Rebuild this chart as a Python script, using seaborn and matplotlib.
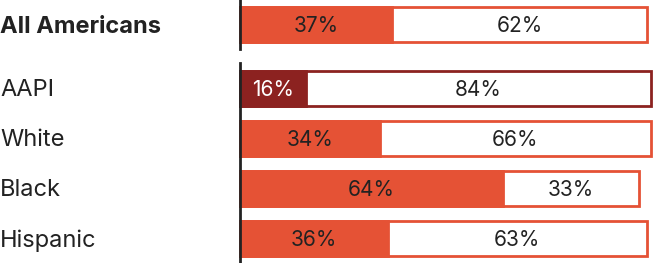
import matplotlib
matplotlib.use("Agg")
import matplotlib.pyplot as plt
import seaborn as sns
import pandas as pd

sns.set_theme(style="white")
plt.rcParams['font.family'] = ['Inter', 'DejaVu Sans']

top_cat = ["All Americans"]
top_first = [37]
top_second = [62]

groups = ["AAPI", "White", "Black", "Hispanic"]
first = [16, 34, 64, 36]
second = [84, 66, 33, 63]

ORANGE = "#E55235"
DARKRED = "#8C2220"
TXT = "#222222"
colors_top = [ORANGE]
colors_bot = [DARKRED, ORANGE, ORANGE, ORANGE]
text_colors_top = [TXT]
text_colors_bot = ["white", TXT, TXT, TXT]

W, H = 653, 263
fig = plt.figure(figsize=(W / 100, H / 100), dpi=100)

left = 240 / W
AXW = 411
width = AXW / W
ax_top = fig.add_axes([left, 1 - 49 / H, width, 49 / H])
ax_bot = fig.add_axes([left, 0, width, 200 / H])


def draw(ax, cats, f, s, cols, tcols, bold):
    df = pd.DataFrame({"cat": cats, "first": f, "second": s})
    df["total"] = df["first"] + df["second"]
    sns.barplot(data=df, x="total", y="cat", hue="cat", palette=["white"] * len(cats),
                legend=False, orient="h", width=0.70, ax=ax, linewidth=2)
    for p, c in zip(ax.patches, cols):
        p.set_edgecolor(c)
        p.set_clip_on(False)
    n = len(ax.patches)
    sns.barplot(data=df, x="first", y="cat", hue="cat", palette=cols,
                legend=False, orient="h", width=0.70, ax=ax, linewidth=2,
                saturation=1)
    for p, c in zip(ax.patches[n:], cols):
        p.set_edgecolor(c)
        p.set_facecolor(c)
        p.set_clip_on(False)
    for i, (a, b, tc) in enumerate(zip(f, s, tcols)):
        ax.text(a / 2, i, f"{a}%", ha="center", va="center_baseline",
                fontsize=15, color=tc)
        ax.text(a + b / 2, i, f"{b}%", ha="center", va="center_baseline",
                fontsize=15, color=TXT)
    ax.set_xlim(0, 100)
    ax.set_ylim(len(cats) - 0.5, -0.5)
    ax.set_xlabel("")
    ax.set_ylabel("")
    ax.set_xticks([])
    ax.tick_params(axis="y", length=0, pad=0)
    for sp in ["top", "right", "bottom"]:
        ax.spines[sp].set_visible(False)
    ax.spines["left"].set_color(TXT)
    ax.spines["left"].set_linewidth(2)
    ax.spines["left"].set_zorder(5)
    ax.set_yticks(range(len(cats)))
    ax.set_yticklabels([])
    for i, c in enumerate(cats):
        ax.text(-240 / AXW * 100, i, c, ha="left", va="center_baseline",
                fontsize=17, color=TXT, fontweight="bold" if bold else "normal",
                transform=ax.transData, clip_on=False)


draw(ax_top, top_cat, top_first, top_second, colors_top, text_colors_top, True)
ax_top.set_ylim(0.49, -0.49)
draw(ax_bot, groups, first, second, colors_bot, text_colors_bot, False)

fig.savefig("out.png", dpi=100)
